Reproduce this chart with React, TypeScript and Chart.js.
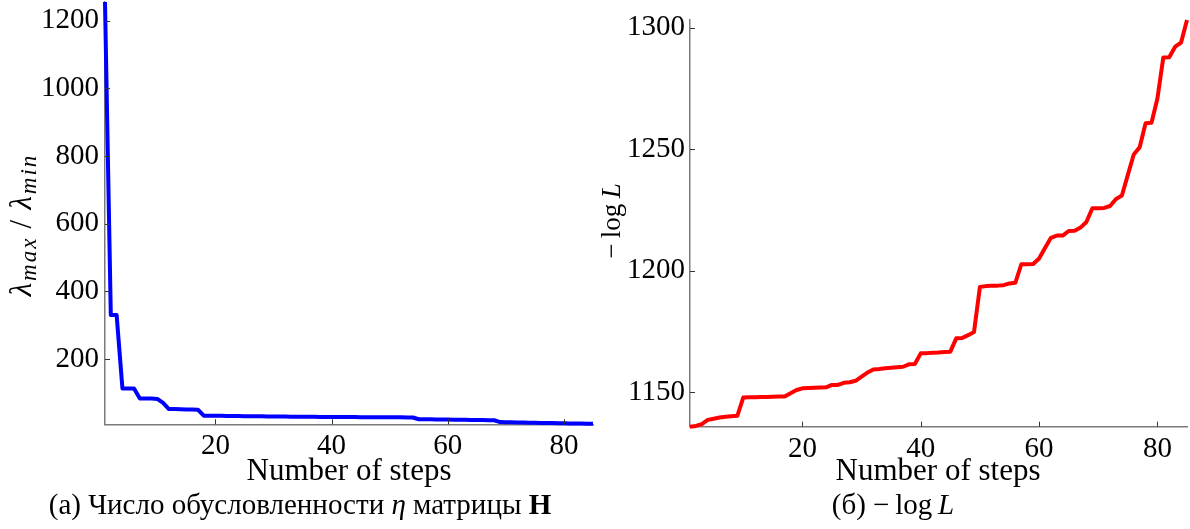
import React, { useEffect, useRef } from 'react';
import { Chart, registerables } from 'chart.js';

Chart.register(...registerables);

const STEPS = [
  1, 2, 3, 4, 5, 6, 7, 8, 9, 10, 11, 12, 13, 14, 15, 16, 17, 18, 19, 20,
  21, 22, 23, 24, 25, 26, 27, 28, 29, 30, 31, 32, 33, 34, 35, 36, 37, 38, 39, 40,
  41, 42, 43, 44, 45, 46, 47, 48, 49, 50, 51, 52, 53, 54, 55, 56, 57, 58, 59, 60,
  61, 62, 63, 64, 65, 66, 67, 68, 69, 70, 71, 72, 73, 74, 75, 76, 77, 78, 79, 80,
  81, 82, 83, 84, 85,
];

// (a) condition number lambda_max / lambda_min
const CONDITION = [
  1255, 330, 330, 113, 113, 113, 83, 83, 83, 82,
  70, 52, 52, 51.5, 51, 50.5, 50, 32.5, 32.3, 32.1,
  31.9, 31.7, 31.5, 31.3, 31.1, 30.9, 30.7, 30.5, 30.3, 30.1,
  29.9, 29.7, 29.6, 29.4, 29.3, 29.1, 29.0, 28.9, 28.8, 28.7,
  28.6, 28.5, 28.4, 28.3, 28.2, 28.1, 28.0, 27.9, 27.8, 27.7,
  27.6, 27.5, 27.4, 27.2, 22.0, 21.8, 21.6, 21.4, 21.2, 20.9,
  20.6, 20.4, 20.2, 20.0, 19.8, 19.5, 19.2, 19.0, 13.5, 13.2,
  12.8, 12.5, 12.2, 11.8, 11.5, 11.2, 10.9, 10.6, 10.3, 10.0,
  9.7, 9.4, 9.1, 8.8, 8.5,
];

// (б) -log L
const NEG_LOG_L = [
  1135.7, 1136.0, 1136.8, 1138.5, 1139.0, 1139.5, 1139.8, 1140.0, 1140.2, 1147.7,
  1147.8, 1147.8, 1147.9, 1147.9, 1148.0, 1148.1, 1148.1, 1149.5, 1150.8, 1151.5,
  1151.6, 1151.7, 1151.8, 1151.9, 1152.9, 1152.9, 1153.8, 1154.0, 1154.6, 1156.3,
  1158.0, 1159.3, 1159.5, 1159.8, 1160.0, 1160.2, 1160.4, 1161.4, 1161.5, 1165.9,
  1166.0, 1166.2, 1166.3, 1166.5, 1166.6, 1172.1, 1172.2, 1173.4, 1174.7, 1193.2,
  1193.6, 1193.7, 1193.8, 1194.0, 1194.7, 1195.0, 1202.6, 1202.6, 1202.7, 1205.0,
  1209.3, 1213.5, 1214.4, 1214.4, 1216.3, 1216.4, 1217.7, 1220.0, 1225.7, 1225.7,
  1225.8, 1226.6, 1229.5, 1230.9, 1239.4, 1247.8, 1250.8, 1260.7, 1260.9, 1270.9,
  1287.8, 1287.9, 1292.2, 1293.9, 1303.2,
];

const X_TICKS = [20, 40, 60, 80];
const COND_TICKS = [200, 400, 600, 800, 1000, 1200];
const NLL_TICKS = [1150, 1200, 1250, 1300];

const SERIF = '"Liberation Serif", "Times New Roman", serif';

const inwardTicks = {
  id: 'inwardTicks',
  afterDatasetsDraw(chart: any) {
    const { ctx, chartArea: a, scales } = chart;
    const x = scales.x;
    const y = scales.y;
    ctx.save();
    ctx.strokeStyle = '#333';
    ctx.lineWidth = 1;
    ctx.beginPath();
    x.ticks.forEach((t: any) => {
      const px = Math.round(x.getPixelForValue(t.value)) + 0.5;
      ctx.moveTo(px, a.bottom);
      ctx.lineTo(px, a.bottom - 5);
    });
    y.ticks.forEach((t: any) => {
      const py = Math.round(y.getPixelForValue(t.value)) + 0.5;
      ctx.moveTo(a.left, py);
      ctx.lineTo(a.left + 5, py);
    });
    ctx.stroke();
    ctx.restore();
  },
};

function buildConfig(opts: {
  values: number[];
  color: string;
  yMin: number;
  yMax: number;
  yTicks: number[];
  padding: { left: number; top: number; right: number; bottom: number };
  yWidth: number;
  xHeight: number;
  yTickPad: number;
}): any {
  return {
    type: 'line',
    data: {
      labels: STEPS,
      datasets: [
        {
          data: opts.values,
          borderColor: opts.color,
          borderWidth: 4,
          pointRadius: 0,
          tension: 0,
          fill: false,
          clip: false,
          borderJoinStyle: 'round',
        },
      ],
    },
    options: {
      animation: false,
      responsive: false,
      devicePixelRatio: 1,
      layout: { padding: opts.padding },
      plugins: {
        legend: { display: false },
        tooltip: { enabled: false },
        title: { display: false },
      },
      scales: {
        x: {
          type: 'linear',
          min: 1,
          max: 85,
          grid: { display: true, drawOnChartArea: false, drawTicks: false },
          border: { display: true, color: '#7a7a7a', width: 1.5 },
          ticks: {
            color: '#000',
            padding: 5,
            maxRotation: 0,
            font: { family: SERIF, size: 29 },
            callback: (v: any) => String(v),
          },
          afterBuildTicks: (s: any) => {
            s.ticks = X_TICKS.map((v) => ({ value: v }));
          },
          afterFit: (s: any) => {
            s.height = opts.xHeight;
            s.paddingLeft = 0;
            s.paddingRight = 0;
          },
        },
        y: {
          type: 'linear',
          min: opts.yMin,
          max: opts.yMax,
          grid: { display: true, drawOnChartArea: false, drawTicks: false },
          border: { display: true, color: '#7a7a7a', width: 1.5 },
          ticks: {
            color: '#000',
            padding: opts.yTickPad,
            font: { family: SERIF, size: 29 },
            callback: (v: any) => String(v),
          },
          afterBuildTicks: (s: any) => {
            s.ticks = opts.yTicks.map((v) => ({ value: v }));
          },
          afterFit: (s: any) => {
            s.width = opts.yWidth;
            s.paddingTop = 0;
            s.paddingBottom = 0;
          },
        },
      },
    },
    plugins: [inwardTicks],
  };
}

const textBox = (cx: number, top: number, size: number, w = 600): React.CSSProperties => ({
  position: 'absolute',
  left: cx - w / 2,
  top,
  width: w,
  height: 30,
  lineHeight: '30px',
  fontSize: size,
  textAlign: 'center',
  whiteSpace: 'nowrap',
  fontFamily: SERIF,
  color: '#000',
});

const rotBox = (cx: number, cy: number, size: number): React.CSSProperties => ({
  position: 'absolute',
  left: cx - 100,
  top: cy - 20,
  width: 200,
  height: 40,
  lineHeight: '40px',
  fontSize: size,
  textAlign: 'center',
  whiteSpace: 'nowrap',
  fontFamily: SERIF,
  color: '#000',
  transform: 'rotate(-90deg)',
  transformOrigin: '50% 50%',
});

export default function App() {
  const leftRef = useRef<HTMLCanvasElement>(null);
  const rightRef = useRef<HTMLCanvasElement>(null);

  useEffect(() => {
    const charts: Chart[] = [];
    if (leftRef.current) {
      charts.push(
        new Chart(
          leftRef.current,
          buildConfig({
            values: CONDITION,
            color: '#0000ff',
            yMin: 7,
            yMax: 1255,
            yTicks: COND_TICKS,
            padding: { left: 0, top: 2, right: 7, bottom: 0 },
            yWidth: 105,
            xHeight: 104.7,
            yTickPad: 6,
          })
        )
      );
    }
    if (rightRef.current) {
      charts.push(
        new Chart(
          rightRef.current,
          buildConfig({
            values: NEG_LOG_L,
            color: '#ff0000',
            yMin: 1135.7,
            yMax: 1303.2,
            yTicks: NLL_TICKS,
            padding: { left: 0, top: 20, right: 3, bottom: 0 },
            yWidth: 90,
            xHeight: 102.3,
            yTickPad: 5,
          })
        )
      );
    }
    return () => charts.forEach((c) => c.destroy());
  }, []);

  return (
    <div
      style={{
        position: 'absolute',
        left: 0,
        top: 0,
        width: 1190,
        height: 529,
        background: '#fff',
        overflow: 'hidden',
      }}
    >
      <canvas
        ref={leftRef}
        width={600}
        height={529}
        style={{ position: 'absolute', left: 0, top: 0, width: 600, height: 529 }}
      />
      <canvas
        ref={rightRef}
        width={590}
        height={529}
        style={{ position: 'absolute', left: 600, top: 0, width: 590, height: 529 }}
      />

      <div style={rotBox(21, 225, 31)}>
        <span style={{ letterSpacing: 2 }}>
          <i>λ</i>
          <sub style={{ fontSize: 23, fontStyle: 'italic', verticalAlign: '-5px' }}>max</sub>
          &thinsp;/&thinsp;
          <i>λ</i>
          <sub style={{ fontSize: 23, fontStyle: 'italic', verticalAlign: '-5px' }}>min</sub>
        </span>
      </div>
      <div style={rotBox(611, 221, 27)}>
        −&thinsp;log&thinsp;<i>L</i>
      </div>

      <div style={textBox(349, 455, 31)}>Number of steps</div>
      <div style={textBox(938, 455, 31)}>Number of steps</div>

      <div style={textBox(300, 489, 29)}>
        (a) Число обусловленности <i>η</i> матрицы <b>H</b>
      </div>
      <div style={textBox(893, 489, 29)}>
        (б) −&thinsp;log&thinsp;<i>L</i>
      </div>
    </div>
  );
}
